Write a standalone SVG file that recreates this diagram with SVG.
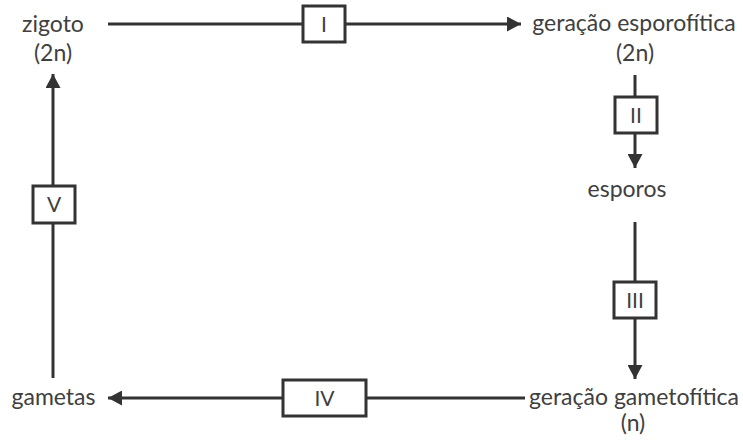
<svg xmlns="http://www.w3.org/2000/svg" width="743" height="440" viewBox="0 0 743 440">
<defs>
<style>
text{font-family:"Lato","Open Sans","Liberation Sans",sans-serif;fill:#404040;font-size:23px;text-anchor:middle}
.lbl{font-size:21px}
.ln{stroke:#333;stroke-width:3;fill:none}
.box{fill:#fff;stroke:#333;stroke-width:3}
</style>
<marker id="ah" viewBox="0 0 14 15" refX="14" refY="7.5" markerWidth="14" markerHeight="15" markerUnits="userSpaceOnUse" orient="auto">
<path d="M0,0 L14,7.5 L0,15 z" fill="#333"/>
</marker>
</defs>
<rect width="743" height="440" fill="#fff"/>
<g id="connectors">
<path class="ln" d="M108,24 H303"/>
<path class="ln" d="M345,24 H521" marker-end="url(#ah)"/>
<path class="ln" d="M635,75 V97"/>
<path class="ln" d="M635,133 V168" marker-end="url(#ah)"/>
<path class="ln" d="M635,222 V281"/>
<path class="ln" d="M635,318 V379" marker-end="url(#ah)"/>
<path class="ln" d="M525,398 H366"/>
<path class="ln" d="M283,398 H108" marker-end="url(#ah)"/>
<path class="ln" d="M53,378 V223"/>
<path class="ln" d="M53,185 V74" marker-end="url(#ah)"/>
</g>
<g id="stepI"><rect class="box" x="303" y="6" width="42" height="36"/><text class="lbl" x="324" y="32">I</text></g>
<g id="stepII"><rect class="box" x="615" y="97" width="42" height="36"/><text class="lbl" x="636" y="123">II</text></g>
<g id="stepIII"><rect class="box" x="614" y="282" width="42" height="36"/><text class="lbl" x="635" y="308">III</text></g>
<g id="stepIV"><rect class="box" x="283" y="380" width="83" height="36"/><text class="lbl" x="324.5" y="406">IV</text></g>
<g id="stepV"><rect class="box" x="33" y="186" width="42" height="37"/><text class="lbl" x="54" y="212">V</text></g>
<g id="zigoto"><text x="53" y="32">zigoto</text><text x="53" y="61">(2n)</text></g>
<g id="esporofitica"><text x="634" y="31">geração esporofítica</text><text x="635" y="61">(2n)</text></g>
<g id="esporos"><text x="627" y="197">esporos</text></g>
<g id="gametofitica"><text x="634" y="405">geração gametofítica</text><text x="633" y="431">(n)</text></g>
<g id="gametas"><text x="53.5" y="405">gametas</text></g>
</svg>
